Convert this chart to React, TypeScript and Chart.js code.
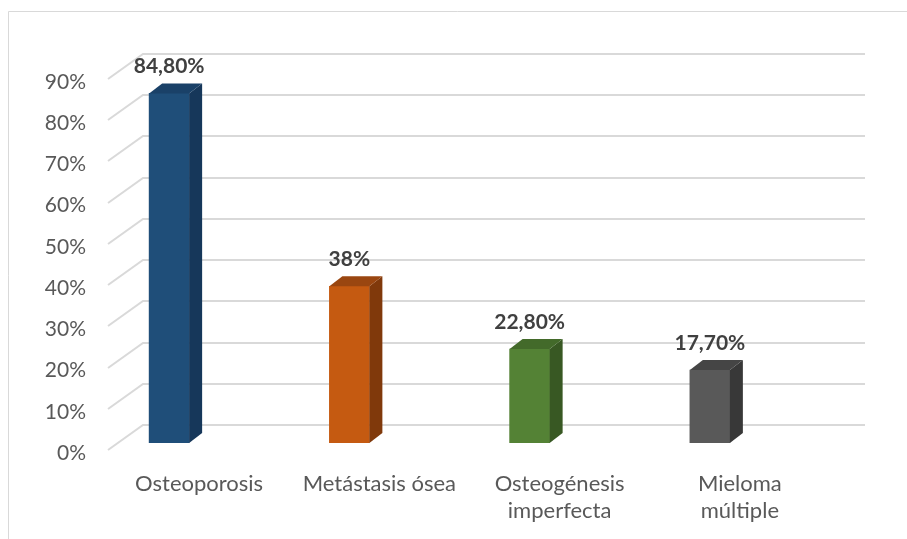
import React, { useEffect, useRef } from "react";
import { Chart, registerables } from "chart.js";

Chart.register(...registerables);

// Categories (multi-line where the label wraps), values in percent and their printed labels
const CATEGORIES: string[][] = [
  ["Osteoporosis"],
  ["Metástasis ósea"],
  ["Osteogénesis", "imperfecta"],
  ["Mieloma", "múltiple"],
];
const VALUES: number[] = [84.8, 38, 22.8, 17.7];
const VALUE_LABELS: string[] = ["84,80%", "38%", "22,80%", "17,70%"];
const Y_MAX = 90;
const Y_STEP = 10;

// Face colours of the 3D columns
const FRONT = ["#1F4E79", "#C55A11", "#548235", "#595959"];
const SIDE = ["#16375A", "#80390B", "#385823", "#383838"];
const TOP = ["#1A4168", "#9A4610", "#436A2A", "#454545"];

const FONT = "Lato, 'Open Sans', sans-serif";
const TEXT = "#595959";
const GRID = "#d9d9d9";

// depth of a column (right/up)
const BAR_DX = 13;
const BAR_DY = -10;
// back wall relative to the column plane, and wall depth
const WALL_LEFT = 64;
const WALL_RIGHT = 65;
const WALL_UP = -18;
const WALL_DX = 35;
const WALL_DY = 25;
// y labels sit on the front edge of the side wall, slightly right of the plot's left edge
const Y_LABEL_SHIFT = 7;

const box3d = {
  id: "box3d",
  afterLayout(chart: any) {
    // let the value-axis labels reach past the plot's left edge without being clipped
    chart.scales.y.right += Y_LABEL_SHIFT;
  },
  beforeDraw(chart: any) {
    const { ctx, width, height } = chart;
    ctx.save();
    ctx.fillStyle = "#ffffff";
    ctx.fillRect(0, 0, width, height);
    ctx.strokeStyle = GRID;
    ctx.lineWidth = 1;
    ctx.beginPath();
    ctx.moveTo(8.5, height);
    ctx.lineTo(8.5, 11.5);
    ctx.lineTo(width, 11.5);
    ctx.stroke();
    ctx.restore();
  },
  beforeDatasetsDraw(chart: any) {
    const { ctx, chartArea: a } = chart;
    const y = chart.scales.y;
    const backL = a.left + WALL_LEFT;
    const backR = a.right + WALL_RIGHT;
    ctx.save();
    ctx.strokeStyle = GRID;
    ctx.lineWidth = 2;
    y.ticks.forEach((t: any) => {
      const yb = Math.round(y.getPixelForValue(t.value) + WALL_UP);
      ctx.beginPath();
      ctx.moveTo(backL - WALL_DX, yb + WALL_DY);
      ctx.lineTo(backL, yb);
      ctx.lineTo(backR, yb);
      ctx.stroke();
    });
    ctx.restore();
  },
  afterDatasetsDraw(chart: any) {
    const { ctx } = chart;
    const meta = chart.getDatasetMeta(0);
    ctx.save();
    meta.data.forEach((bar: any, i: number) => {
      const { x, y, base, width } = bar.getProps(["x", "y", "base", "width"], true);
      const l = x - width / 2;
      const r = x + width / 2;
      // side face
      ctx.fillStyle = SIDE[i];
      ctx.beginPath();
      ctx.moveTo(r, y);
      ctx.lineTo(r + BAR_DX, y + BAR_DY);
      ctx.lineTo(r + BAR_DX, base + BAR_DY);
      ctx.lineTo(r, base);
      ctx.closePath();
      ctx.fill();
      // top face
      ctx.fillStyle = TOP[i];
      ctx.beginPath();
      ctx.moveTo(l, y);
      ctx.lineTo(l + BAR_DX, y + BAR_DY);
      ctx.lineTo(r + BAR_DX, y + BAR_DY);
      ctx.lineTo(r, y);
      ctx.closePath();
      ctx.fill();
      // value label
      ctx.fillStyle = "#404040";
      ctx.font = `bold 21px ${FONT}`;
      ctx.textAlign = "center";
      ctx.textBaseline = "middle";
      ctx.fillText(VALUE_LABELS[i], x, y - 27);
    });
    ctx.restore();
  },
};

export default function App() {
  const ref = useRef<HTMLCanvasElement | null>(null);

  useEffect(() => {
    if (!ref.current) return;
    const chart = new Chart(ref.current, {
      type: "bar",
      data: {
        labels: CATEGORIES,
        datasets: [
          {
            data: VALUES,
            backgroundColor: FRONT,
            borderWidth: 0,
            barThickness: 40,
          },
        ],
      },
      options: {
        responsive: false,
        animation: false,
        layout: { padding: { left: 0, top: 72, right: 107, bottom: 0 } },
        plugins: {
          legend: { display: false },
          tooltip: { enabled: false },
        },
        scales: {
          x: {
            grid: { display: false, drawTicks: false },
            border: { display: false },
            ticks: {
              color: TEXT,
              font: { family: FONT, size: 22, lineHeight: 1.25 },
              labelOffset: 30,
              padding: 27,
              maxRotation: 0,
              autoSkip: false,
            },
            afterFit: (s: any) => {
              s.height = 96;
            },
          },
          y: {
            min: 0,
            max: Y_MAX,
            grid: { display: false, drawTicks: false },
            border: { display: false },
            ticks: {
              stepSize: Y_STEP,
              color: TEXT,
              font: { family: FONT, size: 21 },
              labelOffset: 10,
              padding: 0,
              callback: (v: any) => `${v}%`,
            },
            afterFit: (s: any) => {
              s.width = 79;
            },
          },
        },
      },
      plugins: [box3d],
    });
    return () => chart.destroy();
  }, []);

  return (
    <div style={{ position: "absolute", left: 0, top: 0, width: 907, height: 539, background: "#fff" }}>
      <canvas ref={ref} width={907} height={539} style={{ display: "block" }} />
    </div>
  );
}
